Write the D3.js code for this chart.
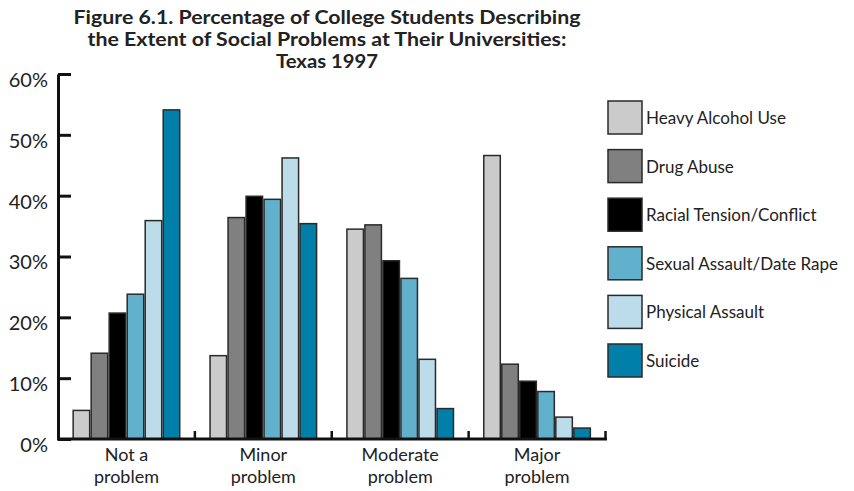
<!DOCTYPE html>
<html><head><meta charset="utf-8">
<script src="https://cdn.jsdelivr.net/npm/d3@7"></script>
<style>body{margin:0;background:#fff}svg{display:block}</style>
</head><body>
<svg id="c" width="854" height="491"></svg>
<script>
const categories = [["Not a","problem"],["Minor","problem"],["Moderate","problem"],["Major","problem"]];
const series = ["Heavy Alcohol Use","Drug Abuse","Racial Tension/Conflict","Sexual Assault/Date Rape","Physical Assault","Suicide"];
const colors = ["#cbcbcb","#808080","#000000","#62b1cc","#bddcea","#0080a8"];
const heavyAlcohol = [4.7, 13.7, 34.5, 46.6];
const drugAbuse    = [14.1, 36.4, 35.2, 12.3];
const racial       = [20.7, 39.9, 29.3, 9.5];
const sexual       = [23.8, 39.4, 26.4, 7.8];
const physical     = [35.9, 46.2, 13.1, 3.6];
const suicide      = [54.1, 35.4, 5.0, 1.8];
const yTicks = [0,10,20,30,40,50,60];
const titleLines = ["Figure 6.1. Percentage of College Students Describing","the Extent of Social Problems at Their Universities:","Texas 1997"];

const values = [heavyAlcohol, drugAbuse, racial, sexual, physical, suicide];
const svg = d3.select("#c");
const font = "Lato, 'Open Sans', sans-serif";

const catKeys = categories.map((c,i)=>i);
const x0 = d3.scaleBand().domain(catKeys).range([58,605.5]).paddingInner(0).paddingOuter(0);
const x1 = d3.scaleBand().domain(series).range([0,x0.bandwidth()]).paddingInner(0).paddingOuter(0.8);
const y = d3.scaleLinear().domain([0,60]).range([439,74]);

// title
const titleW = [507, 479, 102];
svg.append("g").selectAll("text").data(titleLines).join("text")
  .attr("x",327).attr("y",(d,i)=>24+i*22)
  .attr("text-anchor","middle")
  .attr("font-family",font)
  .attr("font-weight","bold").attr("font-size",18).attr("fill","#222")
  .attr("textLength",(d,i)=>titleW[i]).attr("lengthAdjust","spacingAndGlyphs")
  .text(d=>d);

// bars
const g = svg.append("g");
catKeys.forEach(ci=>{
  g.append("g").attr("transform",`translate(${x0(ci)},0)`)
   .selectAll("rect").data(series).join("rect")
   .attr("x",s=>x1(s)+0.75).attr("width",x1.bandwidth()-1.5)
   .attr("y",(s,si)=>y(values[si][ci]))
   .attr("height",(s,si)=>y(0)-y(values[si][ci]))
   .attr("fill",(s,si)=>colors[si])
   .attr("stroke","#2a2a2a").attr("stroke-width",1.5);
});

// y axis
const yAxis = d3.axisLeft(y).tickValues(yTicks).tickFormat(d=>d+"%")
  .tickSizeInner(-13).tickSizeOuter(0).tickPadding(10);
const ya = svg.append("g").attr("transform","translate(58,0)").call(yAxis);
ya.select(".domain").attr("stroke","#111").attr("stroke-width",3);
ya.selectAll(".tick line").attr("stroke","#111").attr("stroke-width",3);
ya.selectAll(".tick text").attr("font-family",font).attr("font-size",20)
  .attr("fill","#222").attr("dy","0.62em").attr("x",-10);

// x axis
const xa = svg.append("g");
xa.append("line").attr("x1",57).attr("x2",607).attr("y1",y(0)).attr("y2",y(0))
  .attr("stroke","#111").attr("stroke-width",3);
xa.selectAll("line.t").data(catKeys.slice(1).concat([catKeys.length])).join("line").attr("class","t")
  .attr("x1",i=>x0.range()[0]+i*x0.step()).attr("x2",i=>x0.range()[0]+i*x0.step())
  .attr("y1",y(0)).attr("y2",y(0)-8).attr("stroke","#111").attr("stroke-width",2.5);
const lbl = xa.selectAll("text").data(catKeys).join("text")
  .attr("text-anchor","middle").attr("font-family",font).attr("font-size",18).attr("fill","#222");
lbl.append("tspan").attr("x",i=>x0(i)+x0.bandwidth()/2).attr("y",461).text(i=>categories[i][0]);
lbl.append("tspan").attr("x",i=>x0(i)+x0.bandwidth()/2).attr("y",483).text(i=>categories[i][1]);

// legend
const lg = svg.append("g").selectAll("g").data(series).join("g")
  .attr("transform",(d,i)=>`translate(608,${101+i*48.6})`);
lg.append("rect").attr("width",34).attr("height",33)
  .attr("fill",(d,i)=>colors[i]).attr("stroke","#2a2a2a").attr("stroke-width",1.5);
lg.append("text").attr("x",38).attr("y",23).attr("font-family",font).attr("font-size",17)
  .attr("fill","#222").text(d=>d);
</script>
</body></html>
